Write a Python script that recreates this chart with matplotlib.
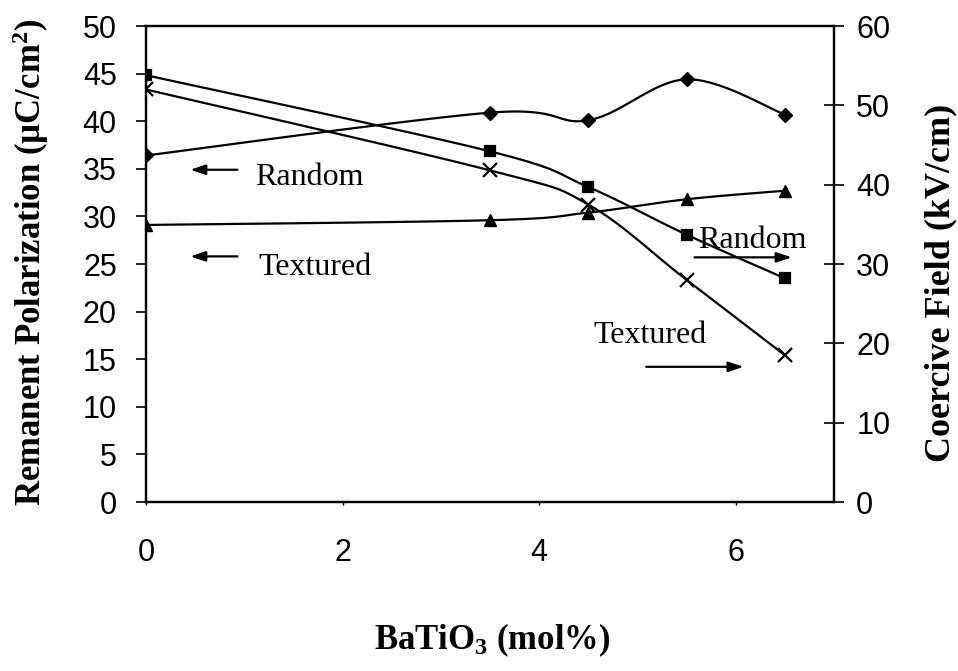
import numpy as np
import matplotlib
matplotlib.use("Agg")
import matplotlib.pyplot as plt

# ---- data ----
batio3 = [0, 3.5, 4.5, 5.5, 6.5]
pr_random = [36.4, 40.9, 40.1, 44.4, 40.7]      # diamonds, left axis
pr_textured = [29.1, 29.6, 30.4, 31.8, 32.7]    # triangles, left axis
ec_random = [53.8, 44.2, 39.7, 33.7, 28.2]      # squares, right axis
ec_textured = [52.0, 41.8, 37.5, 28.0, 18.5]    # crosses, right axis

left_ticks = [0, 5, 10, 15, 20, 25, 30, 35, 40, 45, 50]
right_ticks = [0, 10, 20, 30, 40, 50, 60]
x_ticks = [0, 2, 4, 6]

plt.rcParams['mathtext.fontset'] = 'custom'
plt.rcParams['mathtext.rm'] = 'Liberation Serif:bold'
plt.rcParams['mathtext.bf'] = 'Liberation Serif:bold'
plt.rcParams['mathtext.default'] = 'bf'


def smooth(x, y, n=30):
    """Excel-style smoothed line (cubic Bezier, Catmull-Rom control points)."""
    x = np.asarray(x, float)
    y = np.asarray(y, float)
    P = np.column_stack([x, y])
    out = []
    for i in range(len(P) - 1):
        p0 = P[i - 1] if i > 0 else P[i]
        p1 = P[i]
        p2 = P[i + 1]
        p3 = P[i + 2] if i + 2 < len(P) else P[i + 1]
        c1 = p1 + (p2 - p0) / 6.0
        c2 = p2 - (p3 - p1) / 6.0
        t = np.linspace(0, 1, n)[:, None]
        seg = ((1 - t) ** 3) * p1 + 3 * ((1 - t) ** 2) * t * c1 + 3 * (1 - t) * t ** 2 * c2 + t ** 3 * p2
        out.append(seg if i == 0 else seg[1:])
    s = np.vstack(out)
    return s[:, 0], s[:, 1]


fig = plt.figure(figsize=(9.58, 6.71), dpi=100)
ax = fig.add_axes([146 / 958, 1 - 502 / 671, (834 - 146) / 958, (502 - 26) / 671])
ax2 = ax.twinx()

lw = 1.6
for ys, mk, ms in [(pr_random, 'D', 7), (pr_textured, '^', 8)]:
    sx, sy = smooth(batio3, ys)
    ax.plot(sx, sy, color='black', lw=lw)
    ax.plot(batio3, ys, linestyle='none', marker=mk, ms=ms, color='black')
for ys, mk, ms in [(ec_random, 's', 7), (ec_textured, 'x', 10)]:
    sx, sy = smooth(batio3, ys)
    ax2.plot(sx, sy, color='black', lw=lw)
    ax2.plot(batio3, ys, linestyle='none', marker=mk, ms=ms, color='black', mew=1.6)

ax.set_xlim(0, 7)
ax.set_ylim(0, 50)
ax2.set_ylim(0, 60)
ax.set_xticks(x_ticks)
ax.set_yticks(left_ticks)
ax2.set_yticks(right_ticks)

tickfont = dict(family='Liberation Sans', size=22)
ax.set_xticklabels([str(v) for v in x_ticks], **tickfont)
ax.set_yticklabels([str(v) for v in left_ticks], **tickfont)
ax2.set_yticklabels([str(v) for v in right_ticks], **tickfont)

ax.tick_params(axis='y', direction='out', length=7, width=1.2, pad=14)
ax.tick_params(axis='x', direction='out', length=2, width=1, pad=24)
ax2.tick_params(axis='y', direction='inout', length=14, width=1.2, pad=9)
for a in (ax, ax2):
    for sp in a.spines.values():
        sp.set_linewidth(1.6)

labfont = dict(family='Liberation Serif', weight='bold', size=25)
fig.text(31 / 958, 1 - 262 / 671, 'Remanent Polarization (\u00b5C/cm$^{2}$)', rotation=90,
         ha='center', va='center', **labfont)
fig.text(941 / 958, 1 - 283 / 671, 'Coercive Field (kV/cm)', rotation=90,
         ha='center', va='center', family='Liberation Serif', weight='bold', size=26)
fig.text(492 / 958, 1 - 640 / 671, 'BaTiO$_{3}$ (mol%)', ha='center', va='center', **labfont)

annfont = dict(family='Liberation Serif', size=23)
arrow = dict(arrowstyle='-|>,head_length=0.9,head_width=0.3', color='black', lw=1.6,
             shrinkA=0, shrinkB=0)
# left-pointing annotations (polarization, left axis)
ax.text(1.11, 33.3, 'Random', ha='left', va='baseline', **annfont)
ax.annotate('', xy=(0.45, 34.9), xytext=(0.93, 34.9), arrowprops=arrow)
ax.text(1.14, 23.8, 'Textured', ha='left', va='baseline', **annfont)
ax.annotate('', xy=(0.45, 25.8), xytext=(0.93, 25.8), arrowprops=arrow)
# right-pointing annotations (coercive field, right axis)
ax.text(5.62, 26.7, 'Random', ha='left', va='baseline', **annfont)
ax.annotate('', xy=(6.57, 25.7), xytext=(5.58, 25.7), arrowprops=arrow)
ax.text(4.55, 16.7, 'Textured', ha='left', va='baseline', **annfont)
ax.annotate('', xy=(6.08, 14.2), xytext=(5.09, 14.2), arrowprops=arrow)

fig.savefig('out.png', dpi=100)
